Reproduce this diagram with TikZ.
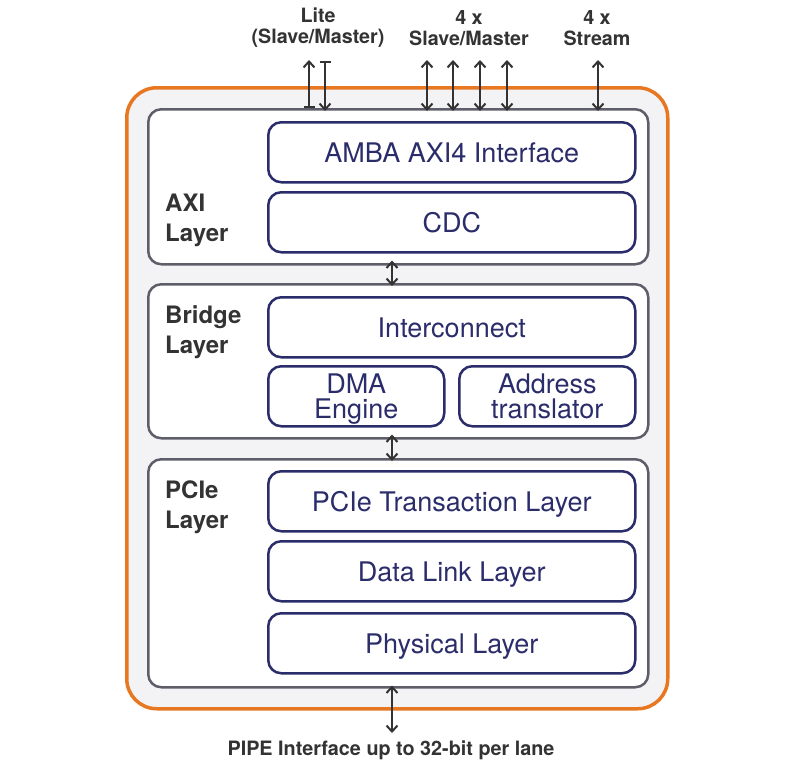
\documentclass[tikz,border=0pt]{standalone}
\usepackage{fontspec}
\setmainfont{TeX Gyre Heros}
\usetikzlibrary{arrows.meta}
\definecolor{orng}{HTML}{E87722}
\definecolor{laygray}{HTML}{5E5E6A}
\definecolor{navy}{HTML}{2B2D6B}
\definecolor{bgfill}{HTML}{F3F3F5}
\definecolor{txt}{HTML}{333333}
\tikzset{
  outerbox/.style={draw=orng,line width=3.5pt,fill=bgfill,rounded corners=30pt,inner sep=0pt,anchor=north west},
  layerbox/.style={draw=laygray,line width=2.5pt,fill=white,rounded corners=13pt,inner sep=0pt,anchor=north west},
  blockbox/.style={draw=navy,line width=2.5pt,fill=white,rounded corners=13pt,inner sep=0pt,anchor=north west,text=navy,align=center,text height=19.5pt,text depth=0pt,font=\fontsize{27}{25}\selectfont},
  twoline/.style={text height=44.5pt},
  laylabel/.style={anchor=west,align=left,text=txt,font=\bfseries\fontsize{24}{30}\selectfont,inner sep=0pt},
  toplabel/.style={align=center,text=txt,font=\bfseries\fontsize{19.7}{21}\selectfont,inner sep=0pt},
  conn/.style={draw=txt,line width=2pt,{Straight Barb[length=6pt,width=11pt]}-{Straight Barb[length=6pt,width=11pt]}},
  liteup/.style={draw=txt,line width=2pt,{Bar[width=11pt]}-{Straight Barb[length=6pt,width=11pt]}},
}
\begin{document}
\begin{tikzpicture}[x=1pt,y=-1pt]
\useasboundingbox (0,0) rectangle (801,763);
\node[outerbox,minimum width=541pt,minimum height=621pt] (outer) at (125,86) {};
% layers
\node[layerbox,minimum width=500pt,minimum height=155pt] (axi) at (147,108) {};
\node[layerbox,minimum width=500pt,minimum height=154pt] (bridge) at (147,283) {};
\node[layerbox,minimum width=500pt,minimum height=228pt] (pcie) at (147,458) {};
% blocks
\node[blockbox,minimum width=367pt,minimum height=60pt] (amba) at (267,121) {AMBA AXI4 Interface};
\node[blockbox,minimum width=367pt,minimum height=60pt] (cdc) at (267,191) {CDC};
\node[blockbox,minimum width=367pt,minimum height=60pt] (inter) at (267,296) {Interconnect};
\node[blockbox,twoline,minimum width=176pt,minimum height=60pt] (dma) at (267,365) {DMA\\Engine};
\node[blockbox,twoline,minimum width=176pt,minimum height=60pt] (addr) at (458,365) {Address\\translator};
\node[blockbox,minimum width=367pt,minimum height=60pt] (ptl) at (267,470) {PCIe Transaction Layer};
\node[blockbox,minimum width=367pt,minimum height=60pt] (dll) at (267,540) {Data Link Layer};
\node[blockbox,minimum width=367pt,minimum height=60pt] (phy) at (267,612) {Physical Layer};
% layer labels
\node[laylabel] (laxi) at (165,220) {AXI\\Layer};
\node[laylabel] (lbridge) at (165,332) {Bridge\\Layer};
\node[laylabel] (lpcie) at (165,507) {PCIe\\Layer};
% top labels
\node[toplabel] (tlite) at (318,28) {Lite\\(Slave/Master)};
\node[toplabel] (tsm) at (469,28) {4 x\\Slave/Master};
\node[toplabel] (tst) at (597,28) {4 x\\Stream};
\node[anchor=base,text=txt,font=\bfseries\fontsize{19.8}{22}\selectfont,inner sep=0pt] (pipe) at (391,755) {PIPE Interface up to 32-bit per lane};
% connectors
\coordinate (l1) at (309,60);
\coordinate (l2) at (325,61);
\coordinate (s1) at (427,60);
\coordinate (s2) at (453,60);
\coordinate (s3) at (480,60);
\coordinate (s4) at (507,60);
\coordinate (st) at (598,60);
\coordinate (mid) at (392,0);
\coordinate (bot) at (392,733);
\draw[liteup] (l1 |- axi.north) -- (l1);
\draw[liteup] (l2) -- ([yshift=-3pt]l2 |- axi.north);
\foreach \c in {s1,s2,s3,s4,st}{
  \draw[conn] (\c) -- ([yshift=-3pt]\c |- axi.north);
}
\draw[conn] ([yshift=5pt]mid |- axi.south) -- ([yshift=-3pt]mid |- bridge.north);
\draw[conn] ([yshift=5pt]mid |- bridge.south) -- ([yshift=-3pt]mid |- pcie.north);
\draw[conn] ([yshift=3pt]mid |- pcie.south) -- (bot);
\end{tikzpicture}
\end{document}
